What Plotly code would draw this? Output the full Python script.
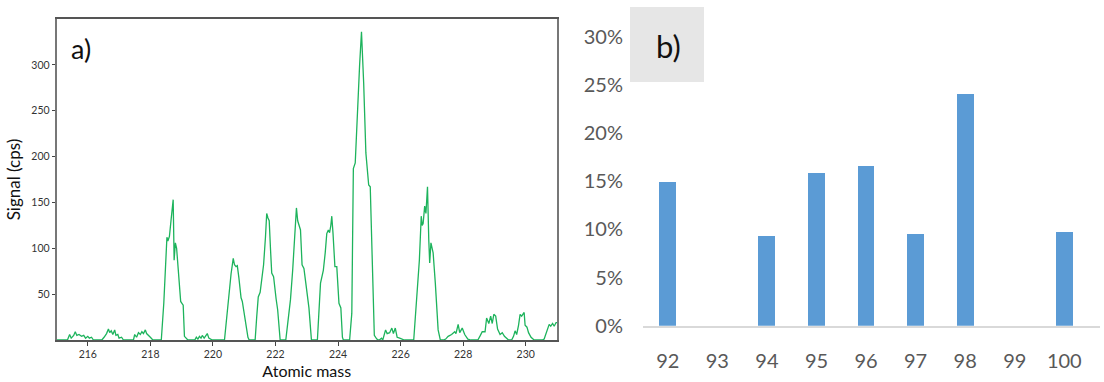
import plotly.graph_objects as go

# ---------------- panel a) : mass spectrum ----------------
mass = [
    215.00, 215.35, 215.42, 215.47, 215.55, 215.60, 215.65, 215.72, 215.80, 215.87, 215.93, 216.00, 216.05, 216.12, 216.18,
    216.45, 216.52, 216.60, 216.66, 216.70, 216.75, 216.80, 216.86, 216.90, 216.96, 217.00, 217.08, 217.14,
    217.46, 217.50, 217.56, 217.62, 217.68, 217.73, 217.78, 217.84, 217.88, 217.95, 218.00, 218.08,
    218.35, 218.43, 218.50, 218.53, 218.56, 218.61, 218.66, 218.73, 218.76, 218.80, 218.84, 218.88, 218.93, 218.97, 219.01, 219.05, 219.09, 219.14, 219.20,
    219.42, 219.47, 219.52, 219.57, 219.62, 219.66, 219.72, 219.77, 219.82, 219.87, 219.92, 219.98,
    220.37, 220.48, 220.58, 220.65, 220.69, 220.74, 220.78, 220.83, 220.90, 220.94, 221.00, 221.06, 221.12, 221.16,
    221.35, 221.40, 221.45, 221.51, 221.56, 221.62, 221.68, 221.72, 221.76, 221.80, 221.84, 221.88, 221.94, 221.98, 222.02, 222.07, 222.15,
    222.33, 222.42, 222.48, 222.55, 222.61, 222.67, 222.71, 222.75, 222.80, 222.85, 222.91, 222.97, 223.02, 223.07, 223.15,
    223.34, 223.44, 223.53, 223.59, 223.64, 223.69, 223.73, 223.77, 223.80, 223.84, 223.90, 223.96, 224.03, 224.09, 224.14, 224.17,
    224.37, 224.44, 224.49, 224.55, 224.62, 224.69, 224.75, 224.82, 224.89, 224.98, 225.03, 225.09, 225.16, 225.22, 225.27,
    225.32, 225.39, 225.43, 225.47, 225.52, 225.57, 225.65, 225.72, 225.77, 225.83, 225.89, 225.97, 226.05, 226.12,
    226.42, 226.52, 226.60, 226.66, 226.69, 226.72, 226.77, 226.81, 226.86, 226.90, 226.93, 226.97, 227.00, 227.04, 227.11, 227.20, 227.27,
    227.37, 227.44, 227.52, 227.63, 227.73, 227.77, 227.84, 227.89, 227.97, 228.05, 228.15, 228.25,
    228.47, 228.55, 228.61, 228.70, 228.75, 228.82, 228.88, 228.93, 228.98, 229.04, 229.10, 229.18, 229.25, 229.32, 229.39, 229.45,
    229.55, 229.61, 229.66, 229.71, 229.77, 229.82, 229.87, 229.92, 229.95, 229.98, 230.04, 230.09, 230.17, 230.27,
    230.53, 230.59, 230.63, 230.68, 230.75, 230.80, 230.86, 230.91, 230.97, 231.00,
]
signal = [
    0, 0, 6, 2, 5, 9, 5, 6, 4, 5, 2, 4, 2, 3, 0,
    0, 3, 7, 12, 8, 10, 6, 11, 5, 6, 2, 3, 0,
    0, 6, 3, 8, 6, 9, 7, 11, 7, 5, 3, 0,
    0, 40, 102, 112, 108, 113, 130, 153, 87, 106, 100, 80, 50, 42, 40, 38, 4, 2, 0,
    0, 3, 1, 4, 2, 5, 2, 4, 7, 2, 1, 0,
    0, 40, 72, 89, 82, 80, 81, 68, 46, 42, 30, 18, 3, 0,
    0, 25, 47, 52, 65, 82, 112, 138, 133, 130, 100, 73, 69, 55, 45, 33, 0,
    0, 25, 44, 76, 110, 144, 130, 124, 120, 82, 78, 62, 47, 35, 0,
    0, 62, 76, 95, 116, 120, 117, 125, 135, 116, 80, 80, 40, 35, 3, 0,
    0, 29, 187, 193, 250, 300, 336, 280, 204, 169, 167, 80, 5, 2, 0,
    0, 2, 0, 5, 11, 7, 8, 13, 7, 13, 3, 2, 1, 0,
    0, 45, 87, 135, 125, 127, 146, 138, 167, 110, 84, 106, 100, 95, 62, 11, 0,
    0, 1, 4, 6, 9, 7, 17, 8, 13, 6, 1, 0,
    0, 5, 9, 9, 24, 18, 26, 18, 28, 26, 12, 6, 8, 4, 2, 0,
    0, 4, 10, 6, 16, 28, 26, 29, 30, 16, 14, 8, 3, 0,
    0, 1, 5, 12, 17, 15, 18, 15, 19, 19,
]
mass_ticks = [216, 218, 220, 222, 224, 226, 228, 230]
signal_ticks = [50, 100, 150, 200, 250, 300]

# ---------------- panel b) : isotope abundance ----------------
isotopes = ["92", "93", "94", "95", "96", "97", "98", "99", "100"]
abundance = [0.149, 0.0, 0.093, 0.159, 0.166, 0.0955, 0.241, 0.0, 0.097]
pct_ticks = [0, 0.05, 0.10, 0.15, 0.20, 0.25, 0.30]

GREEN = "#1db35c"
BLUE = "#5b9bd5"
FONT = "Lato"

fig = go.Figure()
fig.add_trace(go.Scatter(x=mass, y=signal, mode="lines",
                         line=dict(color=GREEN, width=1.3),
                         xaxis="x", yaxis="y", showlegend=False, cliponaxis=True))
fig.add_trace(go.Bar(x=isotopes, y=abundance, marker=dict(color=BLUE, line=dict(width=0)),
                     width=0.34, xaxis="x2", yaxis="y2", showlegend=False))

W, H = 1104, 382
def px_x(p): return p / W
def px_y(p): return (H - p) / H

fig.update_layout(
    width=W, height=H,
    margin=dict(l=0, r=0, t=0, b=0, autoexpand=False),
    paper_bgcolor="white", plot_bgcolor="white",
    font=dict(family=FONT, color="#333333"),
    xaxis=dict(domain=[px_x(56.5), px_x(557)], range=[215, 231], automargin=False,
               tickvals=mass_ticks, ticks="outside", ticklen=4, tickwidth=1,
               tickcolor="#444444", showline=True, linecolor="#555555", linewidth=1.5,
               mirror=True, showgrid=False, zeroline=False,
               tickfont=dict(size=10.5, color="#333333", family=FONT),
               title=dict(text="Atomic mass", font=dict(size=16, color="#111111", family=FONT), standoff=6),
               anchor="y"),
    yaxis=dict(domain=[px_y(340), px_y(19)], range=[0, 350], automargin=False,
               tickvals=signal_ticks, ticks="outside", ticklen=3, tickwidth=1,
               tickcolor="#444444", showline=True, linecolor="#777777", linewidth=1.5,
               mirror=True, showgrid=False, zeroline=False,
               tickfont=dict(size=10.5, color="#333333", family=FONT),
               title=dict(text="Signal (cps)", font=dict(size=17, color="#111111", family=FONT), standoff=6),
               anchor="x"),
    xaxis2=dict(domain=[px_x(643), px_x(1100)], range=[-0.5, 8.72], type="category", automargin=False,
                showline=True, linecolor="#d9d9d9", linewidth=2,
                ticks="outside", ticklen=16, tickcolor="rgba(0,0,0,0)",
                showgrid=False, zeroline=False,
                tickfont=dict(size=20, color="#595959", family=FONT),
                anchor="y2"),
    yaxis2=dict(domain=[px_y(325.7), px_y(37)], range=[0, 0.30], automargin=False,
                tickvals=pct_ticks, tickformat=".0%",
                ticks="outside", ticklen=15, tickcolor="rgba(0,0,0,0)",
                showline=False, showgrid=False, zeroline=False,
                tickfont=dict(size=20, color="#595959", family=FONT),
                anchor="x2"),
    bargap=0,
    shapes=[dict(type="rect", xref="paper", yref="paper",
                 x0=px_x(630), x1=px_x(704), y0=px_y(82), y1=px_y(7),
                 fillcolor="#e6e6e6", line=dict(width=0), layer="below")],
    annotations=[
        dict(text="a)", xref="paper", yref="paper", x=px_x(81), y=px_y(48),
             showarrow=False, font=dict(size=27, color="#111111", family=FONT),
             xanchor="center", yanchor="middle"),
        dict(text="b)", xref="paper", yref="paper", x=px_x(668), y=px_y(46),
             showarrow=False, font=dict(size=31, color="#111111", family=FONT),
             xanchor="center", yanchor="middle"),
    ],
)

fig.write_html(
    "out.html",
    config={"displayModeBar": False},
    post_script="document.body.style.margin='0';document.body.style.padding='0';"
                "document.documentElement.style.overflow='hidden';",
)
